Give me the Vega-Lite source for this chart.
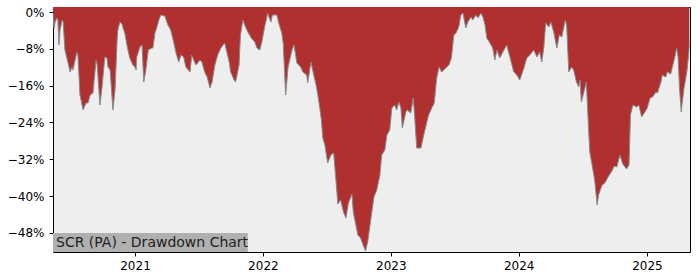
{
  "$schema": "https://vega.github.io/schema/vega-lite/v6.json",
  "width": 637,
  "height": 245,
  "autosize": "none",
  "padding": {"left": 53, "top": 7, "right": 10, "bottom": 28},
  "background": "white",
  "config": {
    "font": "DejaVu Sans",
    "view": {"fill": "#eeeeee", "stroke": "black", "strokeWidth": 1},
    "axis": {"domainColor": "black", "tickColor": "black", "labelColor": "black", "labelFontSize": 12, "tickSize": 4, "grid": false, "title": null, "labelFont": "DejaVu Sans"}
  },
  "datasets": {
    "drawdown": [
    {"date": "2020-05-12", "dd": -0.0043},
    {"date": "2020-05-15", "dd": -0.0348},
    {"date": "2020-05-18", "dd": -0.0217},
    {"date": "2020-05-23", "dd": -0.0130},
    {"date": "2020-05-26", "dd": -0.0174},
    {"date": "2020-05-29", "dd": -0.0717},
    {"date": "2020-06-01", "dd": -0.0391},
    {"date": "2020-06-07", "dd": -0.0174},
    {"date": "2020-06-10", "dd": -0.0217},
    {"date": "2020-06-15", "dd": -0.0826},
    {"date": "2020-06-24", "dd": -0.1109},
    {"date": "2020-06-30", "dd": -0.1304},
    {"date": "2020-07-05", "dd": -0.1196},
    {"date": "2020-07-08", "dd": -0.1261},
    {"date": "2020-07-19", "dd": -0.0870},
    {"date": "2020-07-22", "dd": -0.0935},
    {"date": "2020-07-28", "dd": -0.1804},
    {"date": "2020-08-06", "dd": -0.2130},
    {"date": "2020-08-14", "dd": -0.1978},
    {"date": "2020-08-20", "dd": -0.1978},
    {"date": "2020-08-26", "dd": -0.1804},
    {"date": "2020-09-03", "dd": -0.1761},
    {"date": "2020-09-12", "dd": -0.1043},
    {"date": "2020-09-15", "dd": -0.1152},
    {"date": "2020-09-23", "dd": -0.2022},
    {"date": "2020-09-29", "dd": -0.1630},
    {"date": "2020-10-07", "dd": -0.0978},
    {"date": "2020-10-13", "dd": -0.1000},
    {"date": "2020-10-16", "dd": -0.1196},
    {"date": "2020-10-22", "dd": -0.1261},
    {"date": "2020-10-30", "dd": -0.2130},
    {"date": "2020-11-05", "dd": -0.1696},
    {"date": "2020-11-11", "dd": -0.0609},
    {"date": "2020-11-13", "dd": -0.0391},
    {"date": "2020-11-19", "dd": -0.0217},
    {"date": "2020-11-25", "dd": -0.0261},
    {"date": "2020-11-28", "dd": -0.0348},
    {"date": "2020-12-03", "dd": -0.0457},
    {"date": "2020-12-09", "dd": -0.0717},
    {"date": "2020-12-17", "dd": -0.1000},
    {"date": "2020-12-26", "dd": -0.1152},
    {"date": "2021-01-01", "dd": -0.1196},
    {"date": "2021-01-04", "dd": -0.1261},
    {"date": "2021-01-06", "dd": -0.0978},
    {"date": "2021-01-15", "dd": -0.0761},
    {"date": "2021-01-21", "dd": -0.0717},
    {"date": "2021-01-26", "dd": -0.1522},
    {"date": "2021-02-01", "dd": -0.1261},
    {"date": "2021-02-08", "dd": -0.0826},
    {"date": "2021-02-18", "dd": -0.0783},
    {"date": "2021-02-21", "dd": -0.0783},
    {"date": "2021-02-27", "dd": -0.0457},
    {"date": "2021-03-04", "dd": -0.0348},
    {"date": "2021-03-10", "dd": -0.0174},
    {"date": "2021-03-16", "dd": -0.0065},
    {"date": "2021-03-27", "dd": -0.0087},
    {"date": "2021-04-05", "dd": -0.0283},
    {"date": "2021-04-13", "dd": -0.0391},
    {"date": "2021-04-22", "dd": -0.0674},
    {"date": "2021-04-28", "dd": -0.0891},
    {"date": "2021-05-06", "dd": -0.1087},
    {"date": "2021-05-12", "dd": -0.0935},
    {"date": "2021-05-20", "dd": -0.0978},
    {"date": "2021-05-26", "dd": -0.1196},
    {"date": "2021-06-07", "dd": -0.1304},
    {"date": "2021-06-12", "dd": -0.0935},
    {"date": "2021-06-21", "dd": -0.1109},
    {"date": "2021-06-25", "dd": -0.1152},
    {"date": "2021-07-05", "dd": -0.1043},
    {"date": "2021-07-11", "dd": -0.1087},
    {"date": "2021-07-19", "dd": -0.1304},
    {"date": "2021-07-26", "dd": -0.1413},
    {"date": "2021-08-03", "dd": -0.1652},
    {"date": "2021-08-09", "dd": -0.1522},
    {"date": "2021-08-17", "dd": -0.1152},
    {"date": "2021-08-25", "dd": -0.0935},
    {"date": "2021-09-03", "dd": -0.0783},
    {"date": "2021-09-14", "dd": -0.0674},
    {"date": "2021-09-20", "dd": -0.0870},
    {"date": "2021-09-27", "dd": -0.1087},
    {"date": "2021-10-01", "dd": -0.1304},
    {"date": "2021-10-11", "dd": -0.1478},
    {"date": "2021-10-15", "dd": -0.1522},
    {"date": "2021-10-25", "dd": -0.1152},
    {"date": "2021-10-29", "dd": -0.0500},
    {"date": "2021-11-05", "dd": -0.0174},
    {"date": "2021-11-10", "dd": -0.0283},
    {"date": "2021-11-19", "dd": -0.0435},
    {"date": "2021-11-29", "dd": -0.0565},
    {"date": "2021-12-09", "dd": -0.0652},
    {"date": "2021-12-15", "dd": -0.0783},
    {"date": "2021-12-23", "dd": -0.0826},
    {"date": "2021-12-29", "dd": -0.0652},
    {"date": "2022-01-07", "dd": -0.0283},
    {"date": "2022-01-12", "dd": -0.0130},
    {"date": "2022-01-14", "dd": -0.0022},
    {"date": "2022-01-24", "dd": -0.0217},
    {"date": "2022-01-28", "dd": -0.0065},
    {"date": "2022-02-10", "dd": -0.0065},
    {"date": "2022-02-15", "dd": -0.0239},
    {"date": "2022-02-24", "dd": -0.0457},
    {"date": "2022-02-28", "dd": -0.0674},
    {"date": "2022-03-07", "dd": -0.1804},
    {"date": "2022-03-14", "dd": -0.1196},
    {"date": "2022-03-25", "dd": -0.0826},
    {"date": "2022-03-31", "dd": -0.0717},
    {"date": "2022-04-08", "dd": -0.1109},
    {"date": "2022-04-19", "dd": -0.1196},
    {"date": "2022-04-25", "dd": -0.1304},
    {"date": "2022-05-06", "dd": -0.1370},
    {"date": "2022-05-09", "dd": -0.1543},
    {"date": "2022-05-18", "dd": -0.1087},
    {"date": "2022-05-23", "dd": -0.1261},
    {"date": "2022-06-03", "dd": -0.1630},
    {"date": "2022-06-10", "dd": -0.1957},
    {"date": "2022-06-17", "dd": -0.2348},
    {"date": "2022-06-21", "dd": -0.2739},
    {"date": "2022-06-27", "dd": -0.2891},
    {"date": "2022-07-05", "dd": -0.3283},
    {"date": "2022-07-14", "dd": -0.3109},
    {"date": "2022-07-22", "dd": -0.3065},
    {"date": "2022-07-28", "dd": -0.3609},
    {"date": "2022-08-03", "dd": -0.4174},
    {"date": "2022-08-11", "dd": -0.4087},
    {"date": "2022-08-19", "dd": -0.4348},
    {"date": "2022-08-26", "dd": -0.4478},
    {"date": "2022-09-02", "dd": -0.4152},
    {"date": "2022-09-12", "dd": -0.3957},
    {"date": "2022-09-16", "dd": -0.4348},
    {"date": "2022-09-29", "dd": -0.4848},
    {"date": "2022-10-07", "dd": -0.4913},
    {"date": "2022-10-14", "dd": -0.5065},
    {"date": "2022-10-21", "dd": -0.5196},
    {"date": "2022-10-27", "dd": -0.5000},
    {"date": "2022-11-04", "dd": -0.4565},
    {"date": "2022-11-14", "dd": -0.4022},
    {"date": "2022-11-22", "dd": -0.3870},
    {"date": "2022-12-01", "dd": -0.3543},
    {"date": "2022-12-06", "dd": -0.3109},
    {"date": "2022-12-15", "dd": -0.3000},
    {"date": "2022-12-21", "dd": -0.2674},
    {"date": "2022-12-29", "dd": -0.2565},
    {"date": "2023-01-04", "dd": -0.2087},
    {"date": "2023-01-12", "dd": -0.2022},
    {"date": "2023-01-18", "dd": -0.2130},
    {"date": "2023-01-24", "dd": -0.1957},
    {"date": "2023-01-30", "dd": -0.2087},
    {"date": "2023-02-03", "dd": -0.2522},
    {"date": "2023-02-13", "dd": -0.2174},
    {"date": "2023-02-17", "dd": -0.2130},
    {"date": "2023-02-27", "dd": -0.2196},
    {"date": "2023-03-06", "dd": -0.1870},
    {"date": "2023-03-10", "dd": -0.2239},
    {"date": "2023-03-16", "dd": -0.2957},
    {"date": "2023-03-28", "dd": -0.2957},
    {"date": "2023-04-05", "dd": -0.2674},
    {"date": "2023-04-14", "dd": -0.2391},
    {"date": "2023-04-19", "dd": -0.2239},
    {"date": "2023-04-28", "dd": -0.2087},
    {"date": "2023-05-05", "dd": -0.1978},
    {"date": "2023-05-12", "dd": -0.1435},
    {"date": "2023-05-19", "dd": -0.1196},
    {"date": "2023-05-26", "dd": -0.1304},
    {"date": "2023-06-07", "dd": -0.1217},
    {"date": "2023-06-16", "dd": -0.1152},
    {"date": "2023-06-23", "dd": -0.1000},
    {"date": "2023-06-30", "dd": -0.0500},
    {"date": "2023-07-06", "dd": -0.0457},
    {"date": "2023-07-14", "dd": -0.0326},
    {"date": "2023-07-20", "dd": -0.0065},
    {"date": "2023-07-26", "dd": -0.0022},
    {"date": "2023-08-03", "dd": -0.0348},
    {"date": "2023-08-09", "dd": -0.0217},
    {"date": "2023-08-18", "dd": -0.0109},
    {"date": "2023-08-23", "dd": -0.0174},
    {"date": "2023-09-01", "dd": -0.0065},
    {"date": "2023-09-07", "dd": -0.0130},
    {"date": "2023-09-15", "dd": -0.0022},
    {"date": "2023-09-21", "dd": -0.0109},
    {"date": "2023-09-27", "dd": -0.0283},
    {"date": "2023-10-02", "dd": -0.0565},
    {"date": "2023-10-11", "dd": -0.0674},
    {"date": "2023-10-19", "dd": -0.0783},
    {"date": "2023-10-25", "dd": -0.1043},
    {"date": "2023-10-31", "dd": -0.0826},
    {"date": "2023-11-08", "dd": -0.1000},
    {"date": "2023-11-20", "dd": -0.0826},
    {"date": "2023-11-28", "dd": -0.0717},
    {"date": "2023-12-07", "dd": -0.0978},
    {"date": "2023-12-18", "dd": -0.1304},
    {"date": "2023-12-27", "dd": -0.1370},
    {"date": "2024-01-04", "dd": -0.1478},
    {"date": "2024-01-16", "dd": -0.1217},
    {"date": "2024-01-24", "dd": -0.1000},
    {"date": "2024-02-02", "dd": -0.0935},
    {"date": "2024-02-13", "dd": -0.0826},
    {"date": "2024-02-22", "dd": -0.0978},
    {"date": "2024-03-01", "dd": -0.0870},
    {"date": "2024-03-07", "dd": -0.1087},
    {"date": "2024-03-13", "dd": -0.0761},
    {"date": "2024-03-18", "dd": -0.0239},
    {"date": "2024-03-27", "dd": -0.0326},
    {"date": "2024-04-02", "dd": -0.0217},
    {"date": "2024-04-10", "dd": -0.0435},
    {"date": "2024-04-19", "dd": -0.0783},
    {"date": "2024-04-26", "dd": -0.0500},
    {"date": "2024-05-03", "dd": -0.0543},
    {"date": "2024-05-13", "dd": -0.0174},
    {"date": "2024-05-17", "dd": -0.0283},
    {"date": "2024-05-23", "dd": -0.1304},
    {"date": "2024-05-31", "dd": -0.1196},
    {"date": "2024-06-06", "dd": -0.1261},
    {"date": "2024-06-14", "dd": -0.1522},
    {"date": "2024-06-20", "dd": -0.1630},
    {"date": "2024-06-24", "dd": -0.1478},
    {"date": "2024-06-28", "dd": -0.1957},
    {"date": "2024-07-08", "dd": -0.1652},
    {"date": "2024-07-12", "dd": -0.1522},
    {"date": "2024-07-19", "dd": -0.2609},
    {"date": "2024-07-22", "dd": -0.3043},
    {"date": "2024-07-26", "dd": -0.3217},
    {"date": "2024-08-05", "dd": -0.3652},
    {"date": "2024-08-12", "dd": -0.4196},
    {"date": "2024-08-16", "dd": -0.3978},
    {"date": "2024-08-26", "dd": -0.3761},
    {"date": "2024-09-03", "dd": -0.3717},
    {"date": "2024-09-12", "dd": -0.3587},
    {"date": "2024-09-23", "dd": -0.3457},
    {"date": "2024-09-30", "dd": -0.3348},
    {"date": "2024-10-07", "dd": -0.3370},
    {"date": "2024-10-16", "dd": -0.3109},
    {"date": "2024-10-24", "dd": -0.3304},
    {"date": "2024-11-04", "dd": -0.3413},
    {"date": "2024-11-11", "dd": -0.3326},
    {"date": "2024-11-15", "dd": -0.2239},
    {"date": "2024-11-22", "dd": -0.2022},
    {"date": "2024-12-03", "dd": -0.2065},
    {"date": "2024-12-09", "dd": -0.2022},
    {"date": "2024-12-17", "dd": -0.2283},
    {"date": "2024-12-26", "dd": -0.2174},
    {"date": "2025-01-02", "dd": -0.2087},
    {"date": "2025-01-10", "dd": -0.1870},
    {"date": "2025-01-17", "dd": -0.1848},
    {"date": "2025-01-27", "dd": -0.1739},
    {"date": "2025-01-31", "dd": -0.1761},
    {"date": "2025-02-10", "dd": -0.1522},
    {"date": "2025-02-14", "dd": -0.1370},
    {"date": "2025-02-24", "dd": -0.1413},
    {"date": "2025-02-28", "dd": -0.1304},
    {"date": "2025-03-10", "dd": -0.1348},
    {"date": "2025-03-14", "dd": -0.1217},
    {"date": "2025-03-21", "dd": -0.1000},
    {"date": "2025-03-27", "dd": -0.0783},
    {"date": "2025-03-31", "dd": -0.0978},
    {"date": "2025-04-04", "dd": -0.1652},
    {"date": "2025-04-09", "dd": -0.2174},
    {"date": "2025-04-11", "dd": -0.2022},
    {"date": "2025-04-17", "dd": -0.1652},
    {"date": "2025-04-25", "dd": -0.1304},
    {"date": "2025-04-30", "dd": -0.0935},
    {"date": "2025-05-02", "dd": -0.0717}
    ],
    "label": [
      {"text": "SCR (PA) - Drawdown Chart", "start": "2020-05-12", "end": "2021-11-19", "bottom": -0.5217, "top": -0.4804}
    ]
  },
  "layer": [
    {
      "data": {"name": "drawdown"},
      "mark": {"type": "area", "color": "#b03030", "clip": true, "interpolate": "linear"},
      "encoding": {
        "x": {
          "field": "date", "type": "temporal",
          "scale": {"type": "utc", "domain": [{"year": 2020, "month": 5, "date": 12, "utc": true}, {"year": 2025, "month": 5, "date": 4, "utc": true}]},
          "axis": {"format": "%Y", "tickCount": "year", "labelPadding": 4, "domain": false}
        },
        "y": {
          "field": "dd", "type": "quantitative",
          "scale": {"domain": [-0.5217, 0.0109], "nice": false, "zero": false},
          "axis": {"values": [0, -0.08, -0.16, -0.24, -0.32, -0.40, -0.48], "format": ".0%", "labelPadding": 5, "domain": false}
        },
        "y2": {"datum": 0.0109}
      }
    },
    {
      "data": {"name": "drawdown"},
      "mark": {"type": "line", "color": "#8a8a8a", "strokeWidth": 1, "clip": true},
      "encoding": {
        "x": {"field": "date", "type": "temporal"},
        "y": {"field": "dd", "type": "quantitative"}
      }
    },
    {
      "data": {"name": "label"},
      "mark": {"type": "rect", "color": "#b0b0b0"},
      "encoding": {
        "x": {"field": "start", "type": "temporal"},
        "x2": {"field": "end"},
        "y": {"field": "bottom", "type": "quantitative"},
        "y2": {"field": "top"}
      }
    },
    {
      "data": {"name": "label"},
      "mark": {"type": "text", "align": "left", "baseline": "alphabetic", "dx": 3, "dy": -5, "fontSize": 14, "color": "#222222", "font": "DejaVu Sans"},
      "encoding": {
        "x": {"field": "start", "type": "temporal"},
        "y": {"field": "bottom", "type": "quantitative"},
        "text": {"field": "text"}
      }
    }
  ]
}
